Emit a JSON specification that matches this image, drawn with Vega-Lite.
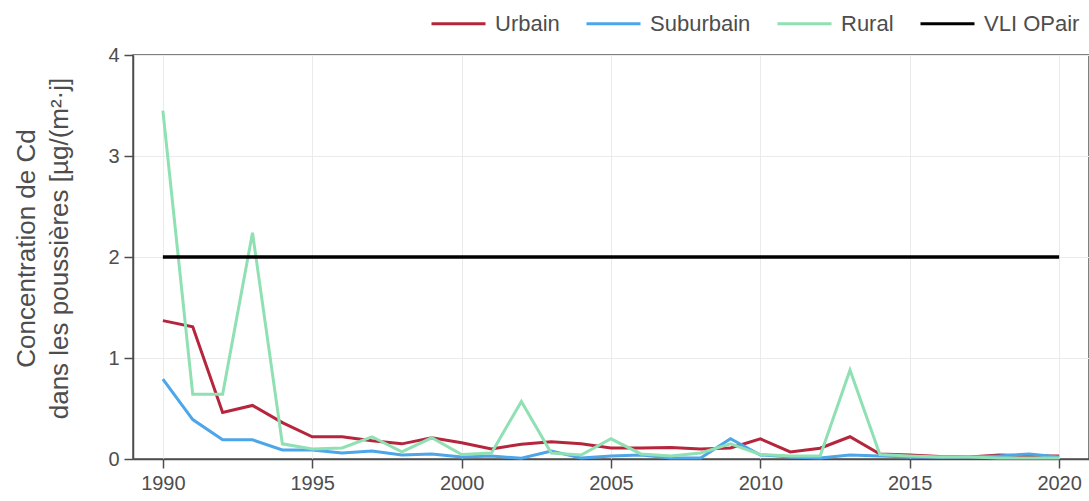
{
  "$schema": "https://vega.github.io/schema/vega-lite/v6.json",
  "width": 956,
  "height": 404,
  "autosize": {"type": "none"},
  "padding": {"left": 133, "top": 55, "right": 0, "bottom": 42},
  "background": "white",
  "config": {
    "font": "Liberation Sans, Arial, sans-serif",
    "view": {"stroke": "#555555", "strokeWidth": 1.5},
    "axis": {
      "domainColor": "#4d4d4d",
      "domainWidth": 1.5,
      "tickColor": "#4d4d4d",
      "tickWidth": 1.5,
      "tickSize": 9,
      "labelPadding": 5,
      "labelFontSize": 20,
      "labelColor": "#4d4d4d",
      "gridColor": "#ebebeb",
      "gridWidth": 1
    }
  },
  "datasets": {
    "series": [
      {"year": 1990, "serie": "Urbain", "value": 1.37},
      {"year": 1991, "serie": "Urbain", "value": 1.31},
      {"year": 1992, "serie": "Urbain", "value": 0.46},
      {"year": 1993, "serie": "Urbain", "value": 0.53},
      {"year": 1994, "serie": "Urbain", "value": 0.36},
      {"year": 1995, "serie": "Urbain", "value": 0.22},
      {"year": 1996, "serie": "Urbain", "value": 0.22},
      {"year": 1997, "serie": "Urbain", "value": 0.18},
      {"year": 1998, "serie": "Urbain", "value": 0.15},
      {"year": 1999, "serie": "Urbain", "value": 0.21},
      {"year": 2000, "serie": "Urbain", "value": 0.16},
      {"year": 2001, "serie": "Urbain", "value": 0.1},
      {"year": 2002, "serie": "Urbain", "value": 0.146},
      {"year": 2003, "serie": "Urbain", "value": 0.17},
      {"year": 2004, "serie": "Urbain", "value": 0.15},
      {"year": 2005, "serie": "Urbain", "value": 0.11},
      {"year": 2006, "serie": "Urbain", "value": 0.11},
      {"year": 2007, "serie": "Urbain", "value": 0.113},
      {"year": 2008, "serie": "Urbain", "value": 0.1},
      {"year": 2009, "serie": "Urbain", "value": 0.11},
      {"year": 2010, "serie": "Urbain", "value": 0.2},
      {"year": 2011, "serie": "Urbain", "value": 0.07},
      {"year": 2012, "serie": "Urbain", "value": 0.107},
      {"year": 2013, "serie": "Urbain", "value": 0.22},
      {"year": 2014, "serie": "Urbain", "value": 0.05},
      {"year": 2015, "serie": "Urbain", "value": 0.04},
      {"year": 2016, "serie": "Urbain", "value": 0.025},
      {"year": 2017, "serie": "Urbain", "value": 0.02},
      {"year": 2018, "serie": "Urbain", "value": 0.04},
      {"year": 2019, "serie": "Urbain", "value": 0.03},
      {"year": 2020, "serie": "Urbain", "value": 0.03},
      {"year": 1990, "serie": "Suburbain", "value": 0.79},
      {"year": 1991, "serie": "Suburbain", "value": 0.39},
      {"year": 1992, "serie": "Suburbain", "value": 0.19},
      {"year": 1993, "serie": "Suburbain", "value": 0.19},
      {"year": 1994, "serie": "Suburbain", "value": 0.09},
      {"year": 1995, "serie": "Suburbain", "value": 0.09},
      {"year": 1996, "serie": "Suburbain", "value": 0.06},
      {"year": 1997, "serie": "Suburbain", "value": 0.08},
      {"year": 1998, "serie": "Suburbain", "value": 0.04},
      {"year": 1999, "serie": "Suburbain", "value": 0.05},
      {"year": 2000, "serie": "Suburbain", "value": 0.02},
      {"year": 2001, "serie": "Suburbain", "value": 0.03},
      {"year": 2002, "serie": "Suburbain", "value": 0.007},
      {"year": 2003, "serie": "Suburbain", "value": 0.08},
      {"year": 2004, "serie": "Suburbain", "value": 0.01},
      {"year": 2005, "serie": "Suburbain", "value": 0.03},
      {"year": 2006, "serie": "Suburbain", "value": 0.04},
      {"year": 2007, "serie": "Suburbain", "value": 0.01},
      {"year": 2008, "serie": "Suburbain", "value": 0.01},
      {"year": 2009, "serie": "Suburbain", "value": 0.2},
      {"year": 2010, "serie": "Suburbain", "value": 0.04},
      {"year": 2011, "serie": "Suburbain", "value": 0.02},
      {"year": 2012, "serie": "Suburbain", "value": 0.01},
      {"year": 2013, "serie": "Suburbain", "value": 0.04},
      {"year": 2014, "serie": "Suburbain", "value": 0.03},
      {"year": 2015, "serie": "Suburbain", "value": 0.02},
      {"year": 2016, "serie": "Suburbain", "value": 0.02},
      {"year": 2017, "serie": "Suburbain", "value": 0.02},
      {"year": 2018, "serie": "Suburbain", "value": 0.03},
      {"year": 2019, "serie": "Suburbain", "value": 0.05},
      {"year": 2020, "serie": "Suburbain", "value": 0.02},
      {"year": 1990, "serie": "Rural", "value": 3.45},
      {"year": 1991, "serie": "Rural", "value": 0.64},
      {"year": 1992, "serie": "Rural", "value": 0.64},
      {"year": 1993, "serie": "Rural", "value": 2.24},
      {"year": 1994, "serie": "Rural", "value": 0.15},
      {"year": 1995, "serie": "Rural", "value": 0.1},
      {"year": 1996, "serie": "Rural", "value": 0.11},
      {"year": 1997, "serie": "Rural", "value": 0.22},
      {"year": 1998, "serie": "Rural", "value": 0.07},
      {"year": 1999, "serie": "Rural", "value": 0.21},
      {"year": 2000, "serie": "Rural", "value": 0.045},
      {"year": 2001, "serie": "Rural", "value": 0.06},
      {"year": 2002, "serie": "Rural", "value": 0.57},
      {"year": 2003, "serie": "Rural", "value": 0.06},
      {"year": 2004, "serie": "Rural", "value": 0.04},
      {"year": 2005, "serie": "Rural", "value": 0.2},
      {"year": 2006, "serie": "Rural", "value": 0.05},
      {"year": 2007, "serie": "Rural", "value": 0.03},
      {"year": 2008, "serie": "Rural", "value": 0.06},
      {"year": 2009, "serie": "Rural", "value": 0.15},
      {"year": 2010, "serie": "Rural", "value": 0.045},
      {"year": 2011, "serie": "Rural", "value": 0.03},
      {"year": 2012, "serie": "Rural", "value": 0.03},
      {"year": 2013, "serie": "Rural", "value": 0.88},
      {"year": 2014, "serie": "Rural", "value": 0.045},
      {"year": 2015, "serie": "Rural", "value": 0.03},
      {"year": 2016, "serie": "Rural", "value": 0.02},
      {"year": 2017, "serie": "Rural", "value": 0.02},
      {"year": 2018, "serie": "Rural", "value": 0.01},
      {"year": 2019, "serie": "Rural", "value": 0.01},
      {"year": 2020, "serie": "Rural", "value": 0.01}
    ],
    "vli": [
      {"year": 1990, "serie": "VLI OPair", "value": 2},
      {"year": 2020, "serie": "VLI OPair", "value": 2}
    ]
  },
  "encoding": {
    "x": {
      "field": "year",
      "type": "quantitative",
      "scale": {"domain": [1989, 2021], "nice": false, "zero": false},
      "axis": {
        "title": null,
        "values": [1990, 1995, 2000, 2005, 2010, 2015, 2020],
        "format": "d",
        "labelFlush": false,
        "labelOverlap": false
      }
    },
    "y": {
      "field": "value",
      "type": "quantitative",
      "scale": {"domain": [0, 4], "nice": false},
      "axis": {
        "values": [0, 1, 2, 3, 4],
        "labelFlush": false,
        "title": ["Concentration de Cd", "dans les poussières [µg/(m²·j]"],
        "titleFont": "Liberation Sans, Arial, sans-serif",
        "titleFontSize": 26,
        "titleFontWeight": "normal",
        "titleColor": "#4d4d4d",
        "titleLineHeight": 33,
        "titleAngle": 270,
        "titleAlign": "center",
        "titleBaseline": "middle",
        "titleX": -107,
        "titleY": 193
      }
    },
    "color": {
      "field": "serie",
      "type": "nominal",
      "scale": {
        "domain": ["Urbain", "Suburbain", "Rural", "VLI OPair"],
        "range": ["#b5263d", "#4da6ea", "#8fe0b3", "#000000"]
      },
      "legend": {
        "title": null,
        "orient": "none",
        "direction": "horizontal",
        "legendX": 297,
        "legendY": -60,
        "symbolType": "stroke",
        "symbolSize": 2916,
        "symbolStrokeWidth": 3,
        "labelFontSize": 22,
        "labelColor": "#4d4d4d",
        "labelOffset": 8,
        "columnPadding": 20,
        "padding": 0
      }
    }
  },
  "layer": [
    {
      "data": {"name": "series"},
      "mark": {"type": "line", "strokeWidth": 3}
    },
    {
      "data": {"name": "vli"},
      "mark": {"type": "line", "strokeWidth": 3.5}
    }
  ]
}
